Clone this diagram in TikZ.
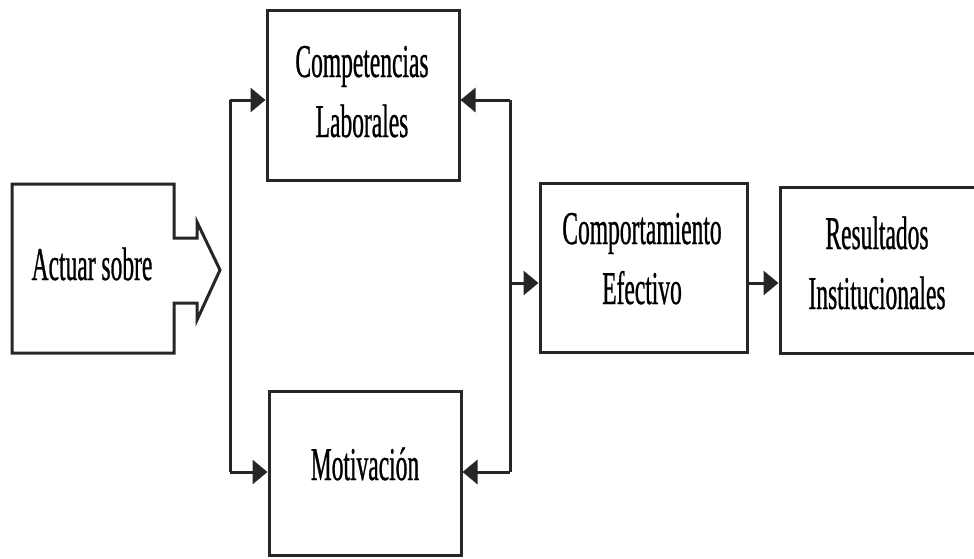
\documentclass[tikz,border=0pt]{standalone}
\usepackage{fontspec}
\setmainfont{Liberation Serif}[FakeStretch=0.5, FakeBold=0.6]
\usetikzlibrary{arrows.meta}
\definecolor{ink}{HTML}{262626}
\tikzset{
  box/.style={draw=ink, line width=3pt, fill=white, inner sep=0pt},
  link/.style={draw=ink, line width=3pt},
  arr/.style={link, -{Triangle[length=15pt,width=24pt]}},
  lbl/.style={font=\fontsize{47}{60}\selectfont, inner sep=0pt, align=center}
}
\begin{document}
\begin{tikzpicture}[x=1pt, y=-1pt]
  \useasboundingbox (0,0) rectangle (974,558);
  \clip (0,0) rectangle (974,558);
  \fill[white] (0,0) rectangle (974,558);

  % block with built-in arrow
  \draw[link, fill=white, line join=miter]
    (12,184) -- (174,184) -- (174,238) -- (197,238) -- (197,222)
    -- (220,270) -- (197,320) -- (197,303) -- (174,303) -- (174,353)
    -- (12,353) -- cycle;
  \node[lbl, anchor=base] (act) at (92,280) {Actuar sobre};

  % main blocks
  \node[box, minimum width=192pt, minimum height=170pt] (comp) at (363,95) {};
  \node[box, minimum width=192pt, minimum height=164pt] (mot) at (365,473) {};
  \node[box, minimum width=207pt, minimum height=169pt] (cef) at (643.5,267.5) {};
  \node[box, minimum width=204pt, minimum height=166pt] (res) at (882,270) {};

  % block captions, placed by the last baseline
  \node[lbl, anchor=base] (compt) at (362,137) {Competencias\\Laborales};
  \node[lbl, anchor=base] (mott) at (365,480) {Motivación};
  \node[lbl, anchor=base] (ceft) at (642,304) {Comportamiento\\Efectivo};
  \node[lbl, anchor=base] (rest) at (877,309) {Resultados\\Institucionales};

  % left distribution bus
  \coordinate (L1) at (230,100);
  \coordinate (L2) at (230,472);
  \draw[link] (L1) -- (L2);
  \draw[arr] (L1) -- (L1 -| comp.west);
  \draw[arr] (L2) -- (L2 -| mot.west);

  % right collection bus
  \coordinate (R1) at (510,100);
  \coordinate (R2) at (510,472);
  \coordinate (R3) at (510,283);
  \draw[link] (R1) -- (R2);
  \draw[arr] (R1) -- (R1 -| comp.east);
  \draw[arr] (R2) -- (R2 -| mot.east);
  \draw[arr] (R3) -- (R3 -| cef.west);
  \draw[arr] (R3 -| cef.east) -- (R3 -| res.west);
\end{tikzpicture}
\end{document}
